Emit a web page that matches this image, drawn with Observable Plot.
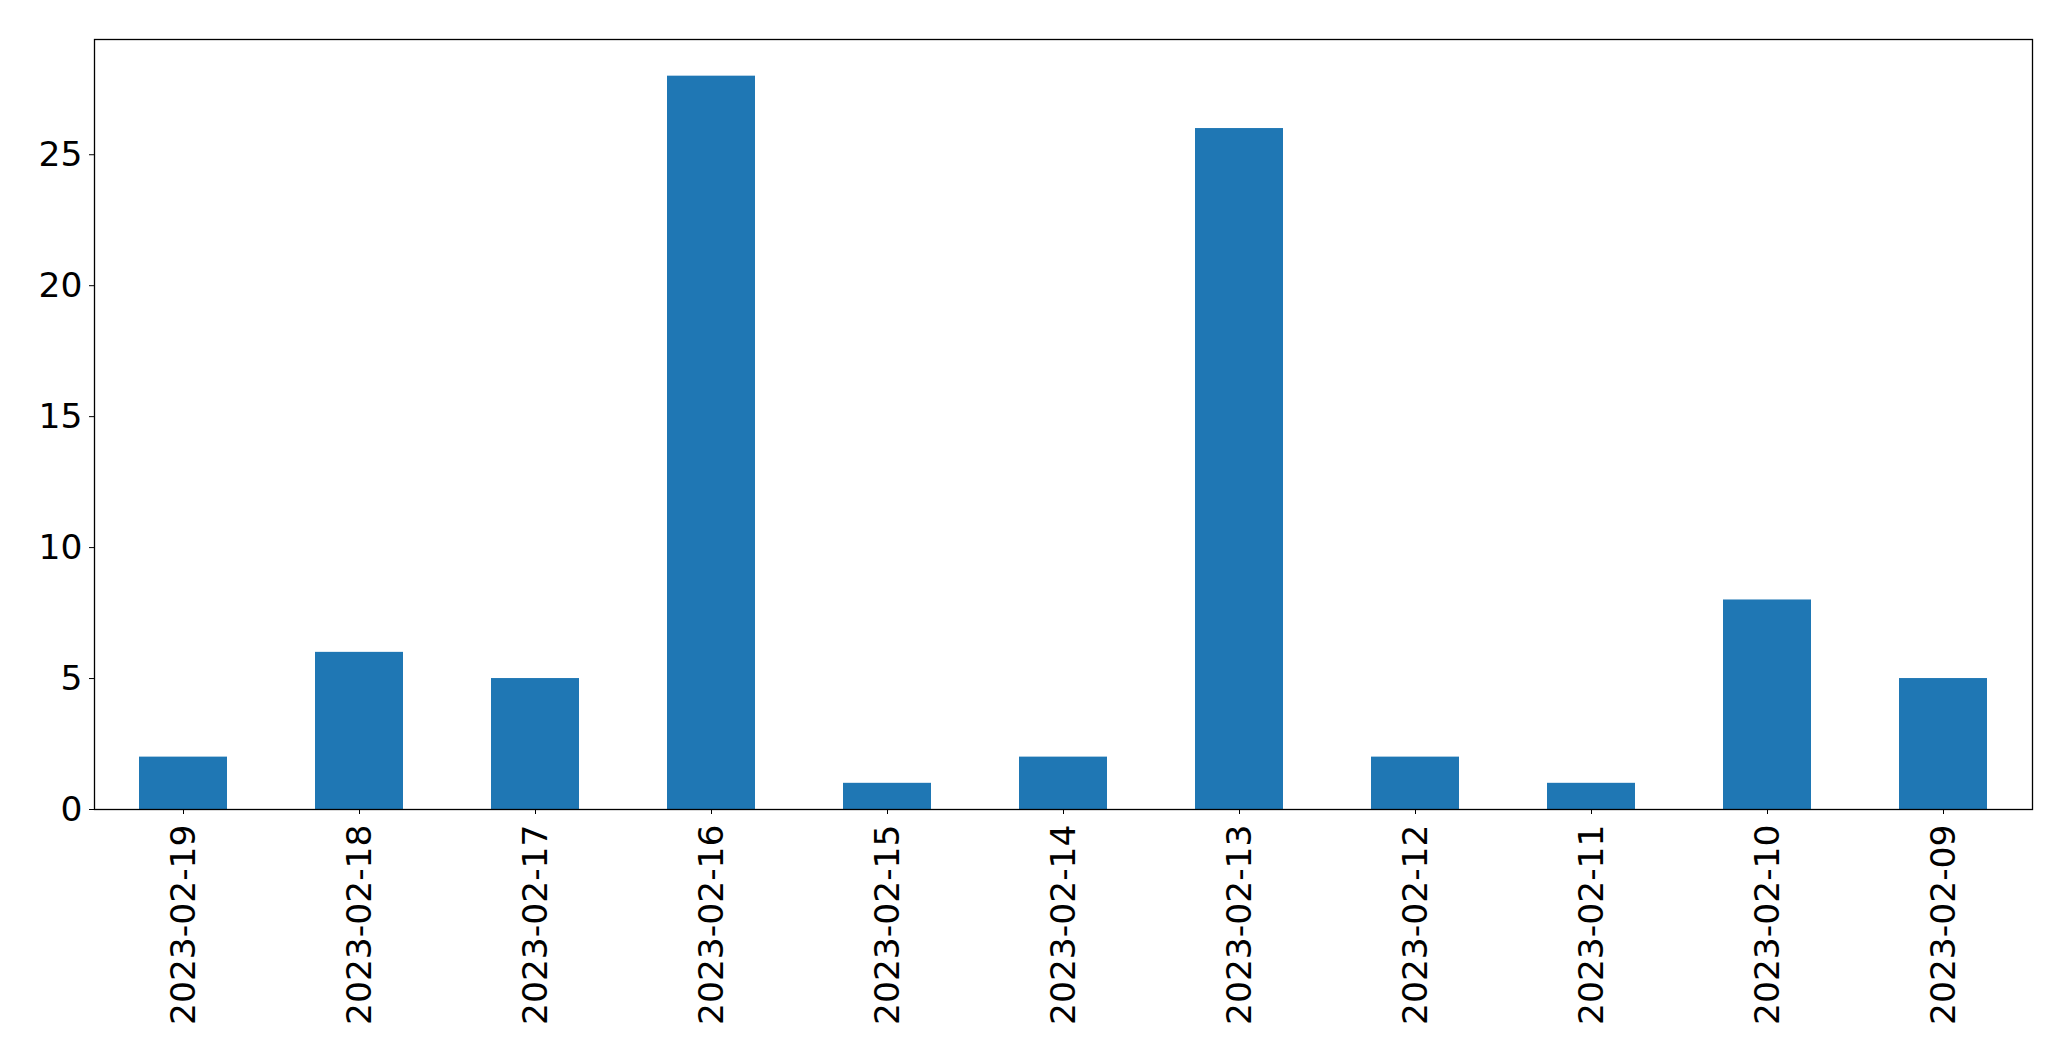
<!DOCTYPE html>
<html>
<head>
<meta charset="utf-8">
<script src="https://cdn.jsdelivr.net/npm/d3@7"></script>
<script src="https://cdn.jsdelivr.net/npm/@observablehq/plot@0.6"></script>
<style>
  html, body { margin: 0; padding: 0; background: #fff; }
  #chart { width: 2071px; height: 1061px; }
</style>
</head>
<body>
<div id="chart"></div>
<script>
const dates = ["2023-02-19","2023-02-18","2023-02-17","2023-02-16","2023-02-15","2023-02-14","2023-02-13","2023-02-12","2023-02-11","2023-02-10","2023-02-09"];
const counts = [2, 6, 5, 28, 1, 2, 26, 2, 1, 8, 5];
const yTicks = [0, 5, 10, 15, 20, 25];

const data = dates.map((d, i) => ({date: d, count: counts[i]}));

const chart = Plot.plot({
  width: 2071,
  height: 1061,
  marginLeft: 94,
  marginRight: 39,
  marginTop: 39,
  marginBottom: 252,
  style: {fontFamily: "DejaVu Sans", fontSize: "34.5px", color: "#000", background: "#fff"},
  x: {type: "band", domain: dates, paddingInner: 0.5, paddingOuter: 0.25, label: null},
  y: {domain: [0, 29.4], label: null},
  marks: [
    Plot.barY(data, {x: "date", y: "count", fill: "#1f77b4"}),
    Plot.axisY({ticks: yTicks, tickSize: 5, tickPadding: 7, fontSize: 34.5, label: null}),
    Plot.axisX({tickSize: 5, tickPadding: 10, tickRotate: -90, fontSize: 34.5, label: null}),
    Plot.frame({stroke: "#000", strokeWidth: 1.3})
  ]
});
document.getElementById("chart").appendChild(chart);
</script>
</body>
</html>
